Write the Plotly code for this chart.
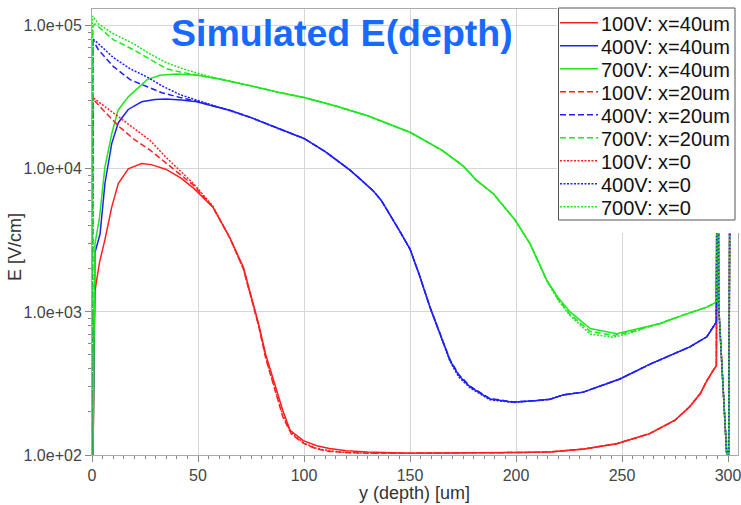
import plotly.graph_objects as go

# ---------------- data ----------------
series_names = ["100V: x=40um", "400V: x=40um", "700V: x=40um",
                "100V: x=20um", "400V: x=20um", "700V: x=20um",
                "100V: x=0", "400V: x=0", "700V: x=0"]

# right-edge spike shared by x=0 / x=20 curves
edge_x = [295.2, 295.6, 300.2, 301.4]
edge_e = [300000, 1100, 60, 300000]

# 100V
r40_x = [0.4, 1.4, 3.5, 6.1, 9.3, 12.4, 17.1, 23.4, 28, 35, 42, 48, 57, 65, 71.4, 74.5, 78.5, 82, 86, 90,
         93.4, 99.7, 106, 112, 120, 130, 150, 180, 200, 216, 232, 247.5, 263, 275, 282, 287, 290, 293, 294.5, 295]
r40_e = [80, 1400, 2200, 3200, 5400, 7900, 10000, 10900, 10700, 9900, 8600, 7300, 5400, 3300, 2050, 1400, 830, 500, 320, 205,
         149, 126, 116, 111, 107, 105, 103, 103, 104, 105, 110, 120, 141, 175, 218, 270, 330, 390, 420, 300000]
r_tail_x = [57, 65, 71.4, 74.5, 78.5, 82, 86, 90, 94, 100, 106, 112, 120, 130, 150, 180, 200, 216, 232, 247.5,
            263, 275, 282, 287, 290, 293, 294.5]
r0_tail_e = [5500, 3300, 2000, 1380, 820, 480, 300, 190, 143, 121, 111, 107, 104, 103, 103, 103, 104, 105, 110, 120,
             141, 175, 218, 270, 330, 390, 420]
r20_tail_e = [5400, 3300, 2000, 1370, 810, 470, 295, 185, 140, 120, 110, 106, 104, 103, 103, 103, 104, 105, 110, 120,
              141, 175, 218, 270, 330, 390, 420]
r0_x = [0, 0.4, 1.0, 5, 13, 20, 27.4, 35, 42, 47.8] + r_tail_x + edge_x
r0_e = [80, 31000, 31000, 28000, 23000, 19000, 15800, 12000, 9500, 7900] + r0_tail_e + edge_e
r20_x = [0, 0.4, 1.2, 5, 13, 20, 27.4, 35, 42, 47.8] + r_tail_x + edge_x
r20_e = [80, 29000, 30000, 26000, 19600, 16000, 13500, 11000, 9000, 7700] + r20_tail_e + edge_e

# 400V
b40_x = [0.4, 1.4, 3.8, 6.1, 9.3, 12.4, 17.1, 23.4, 29.7, 35, 42, 49.4, 57, 65, 75, 87, 100, 110, 121.7, 126.4,
         132.7, 136.5, 140.6, 145, 150, 154.7, 159.4, 164.2, 168.9, 173, 178.3, 187.7, 198.7, 209.8, 216, 222.3, 231.7,
         249, 263, 282, 290, 293, 294.5, 295]
b40_e = [80, 2600, 3500, 7900, 15000, 21000, 26000, 29400, 30500, 30800, 30300, 29400, 27500, 25700, 22800, 19300, 16300,
         13200, 9800, 8500, 7000, 6000, 4800, 3700, 2750, 1760, 1080, 707, 457, 360, 299, 246, 234, 240, 245, 263, 275,
         340, 430, 570, 670, 785, 850, 300000]
b_tail_x = [65, 75, 87, 100, 110, 121.7, 126.4, 132.7, 136.5, 140.6, 145, 150, 154.7, 159.4, 164.2, 168.9, 173, 178.3,
            187.7, 198.7, 209.8, 216, 222.3, 231.7, 249, 263, 282, 290, 293, 294.5]
b0_tail_e = [25700, 22800, 19300, 16300, 13200, 9800, 8500, 7000, 6000, 4800, 3700, 2750, 1760, 1080, 700, 450, 350,
             295, 243, 233, 240, 245, 263, 275, 340, 430, 570, 670, 785, 850]
b20_tail_e = [25700, 22800, 19300, 16300, 13200, 9800, 8500, 7000, 6000, 4800, 3700, 2750, 1760, 1080, 710, 462, 365,
              303, 248, 235, 240, 245, 263, 275, 340, 430, 570, 670, 785, 850]
b0_x = [0, 0.4, 3, 10, 18, 25.8, 33, 41.5, 50, 57] + b_tail_x + edge_x
b0_e = [80, 81000, 75000, 60000, 50000, 44000, 38000, 33000, 30000, 27800] + b0_tail_e + edge_e
b20_x = [0, 0.4, 0.8, 3, 10, 18, 25.8, 33, 41.5, 50, 57] + b_tail_x + edge_x
b20_e = [80, 76000, 78000, 68000, 52000, 42000, 37600, 34000, 31500, 29500, 27600] + b20_tail_e + edge_e

# 700V
g40_x = [0.4, 1.4, 3.5, 6.1, 9.4, 12.3, 17, 21.7, 26, 32, 40, 50, 60, 75, 87, 100, 115, 130, 150, 165, 175, 181.4,
         189.3, 199.5, 206.6, 214.5, 220, 225.5, 235, 247.5, 261.6, 268, 278.8, 290, 294.6, 295]
g40_e = [80, 3000, 4500, 10300, 17800, 25700, 31700, 37000, 42000, 45000, 46000, 45000, 42500, 38000, 34500, 31500,
         27500, 23500, 18000, 13500, 10500, 8300, 6700, 4400, 3000, 1670, 1250, 1000, 765, 705, 785, 830, 950, 1080,
         1170, 300000]
g_tail_x = [75, 87, 100, 115, 130, 150, 165, 175, 181.4, 189.3, 199.5, 206.6, 214.5, 220, 225.5, 235, 245.9, 255,
            261.6, 268, 278.8, 290, 294.6]
g0_tail_e = [38000, 34500, 31500, 27500, 23500, 18000, 13500, 10500, 8300, 6700, 4400, 3000, 1650, 1200, 940, 700,
             665, 720, 780, 830, 950, 1080, 1170]
g20_tail_e = [38000, 34500, 31500, 27500, 23500, 18000, 13500, 10500, 8300, 6700, 4400, 3000, 1660, 1220, 960, 730,
              685, 730, 782, 830, 950, 1080, 1170]
g0_x = [0, 0.3, 3, 10, 19.5, 27, 35.2, 43, 51, 60] + g_tail_x + edge_x
g0_e = [80, 117000, 103000, 88000, 75000, 64000, 55000, 50000, 46000, 42500] + g0_tail_e + edge_e
g20_x = [0, 0.4, 1.5, 4, 10, 19.5, 27, 35.2, 43, 51, 60] + g_tail_x + edge_x
g20_e = [80, 100000, 103000, 96000, 80000, 68000, 59000, 50000, 47000, 45000, 42500] + g20_tail_e + edge_e

y_tickvals = [1e2, 1e3, 1e4, 1e5]
y_ticktext = ["1.0e+02", "1.0e+03", "1.0e+04", "1.0e+05"]
x_tickvals = [0, 50, 100, 150, 200, 250, 300]

# ---------------- styling ----------------
RED, BLUE, GREEN = "#ff1f1f", "#1f1fff", "#1fe61f"
DASH = "6px,3px"
DOT = "2px,1.5px"

series = [
    (r40_x, r40_e, RED, "solid"), (b40_x, b40_e, BLUE, "solid"), (g40_x, g40_e, GREEN, "solid"),
    (r20_x, r20_e, RED, DASH), (b20_x, b20_e, BLUE, DASH), (g20_x, g20_e, GREEN, DASH),
    (r0_x, r0_e, RED, DOT), (b0_x, b0_e, BLUE, DOT), (g0_x, g0_e, GREEN, DOT),
]

fig = go.Figure()
for name, (xs, es, col, dash) in zip(series_names, series):
    fig.add_trace(go.Scatter(x=xs, y=es, mode="lines", name=name,
                             line=dict(color=col, width=1.5, dash=dash)))

minor_y = [m * 10 ** d for d in (2, 3, 4) for m in range(2, 10)]
minor_x = [v for v in range(5, 305, 5) if v % 50 != 0]

# pixel -> paper helpers (plot area: x 92..738, y 9..455)
L, R, T, B = 92, 738, 9, 455
def px(x):
    return (x - L) / (R - L)
def py(y):
    return (B - y) / (B - T)

shapes = []
annotations = []
# white area behind legend (covers grid and curves)
shapes.append(dict(type="rect", xref="paper", yref="paper", x0=px(557), x1=px(745), y0=py(233), y1=py(-5),
                   fillcolor="white", line=dict(width=0), layer="above"))
# legend border
shapes.append(dict(type="rect", xref="paper", yref="paper", x0=px(558.5), x1=px(735), y0=py(220), y1=py(8),
                   fillcolor="rgba(0,0,0,0)", line=dict(color="#555555", width=1), layer="above"))
for i, (name, (_, _, col, dash)) in enumerate(zip(series_names, series)):
    yrow = 22.7 + 23 * i
    shapes.append(dict(type="line", xref="paper", yref="paper", x0=px(560), x1=px(598), y0=py(yrow), y1=py(yrow),
                       line=dict(color=col, width=1.5, dash=dash), layer="above"))
    annotations.append(dict(text=name, xref="paper", yref="paper", x=px(599), y=py(yrow + 1),
                            xanchor="left", yanchor="middle", showarrow=False,
                            font=dict(size=20, color="#111111")))

annotations.append(dict(text="<b>Simulated E(depth)</b>", xref="paper", yref="paper",
                        x=px(342), y=py(33), xanchor="center", yanchor="middle", showarrow=False,
                        font=dict(size=37.5, color="#1769ff")))
annotations.append(dict(text="y (depth) [um]", xref="paper", yref="paper", x=px(414), y=py(493),
                        xanchor="center", yanchor="middle", showarrow=False,
                        font=dict(size=18, color="#333333")))
annotations.append(dict(text="E [V/cm]", xref="paper", yref="paper", x=px(15), y=py(247), textangle=-90,
                        xanchor="center", yanchor="middle", showarrow=False,
                        font=dict(size=18, color="#333333")))

font_family = "Liberation Sans, Arial, sans-serif"
fig.update_layout(
    width=741, height=505,
    margin=dict(l=L, r=741 - R, t=T, b=505 - B, autoexpand=False),
    paper_bgcolor="white", plot_bgcolor="white",
    font=dict(family=font_family, color="#333333", size=16),
    showlegend=False,
    xaxis=dict(range=[0, 304.7], tickvals=x_tickvals, ticks="outside", ticklen=6,
               tickcolor="#888888", showgrid=True, gridcolor="#d6d6d6", gridwidth=1.2,
               showline=True, linecolor="#aaaaaa", mirror=True, zeroline=False, automargin=False,
               ticklabeloverflow="allow",
               tickfont=dict(size=16, color="#444444"),
               minor=dict(tickvals=minor_x, ticks="outside", ticklen=3, tickcolor="#888888", showgrid=False)),
    yaxis=dict(type="log", range=[2, 5.117], tickvals=y_tickvals, ticktext=y_ticktext,
               ticks="outside", ticklen=6, tickcolor="#888888",
               showgrid=True, gridcolor="#d6d6d6", gridwidth=1.2,
               showline=True, linecolor="#aaaaaa", mirror=True, zeroline=False, automargin=False,
               ticklabeloverflow="allow",
               tickfont=dict(size=16, color="#444444"),
               minor=dict(tickvals=minor_y, ticks="outside", ticklen=3, tickcolor="#888888", showgrid=False)),
    shapes=shapes,
    annotations=annotations,
)

fig.write_html("out.html")
